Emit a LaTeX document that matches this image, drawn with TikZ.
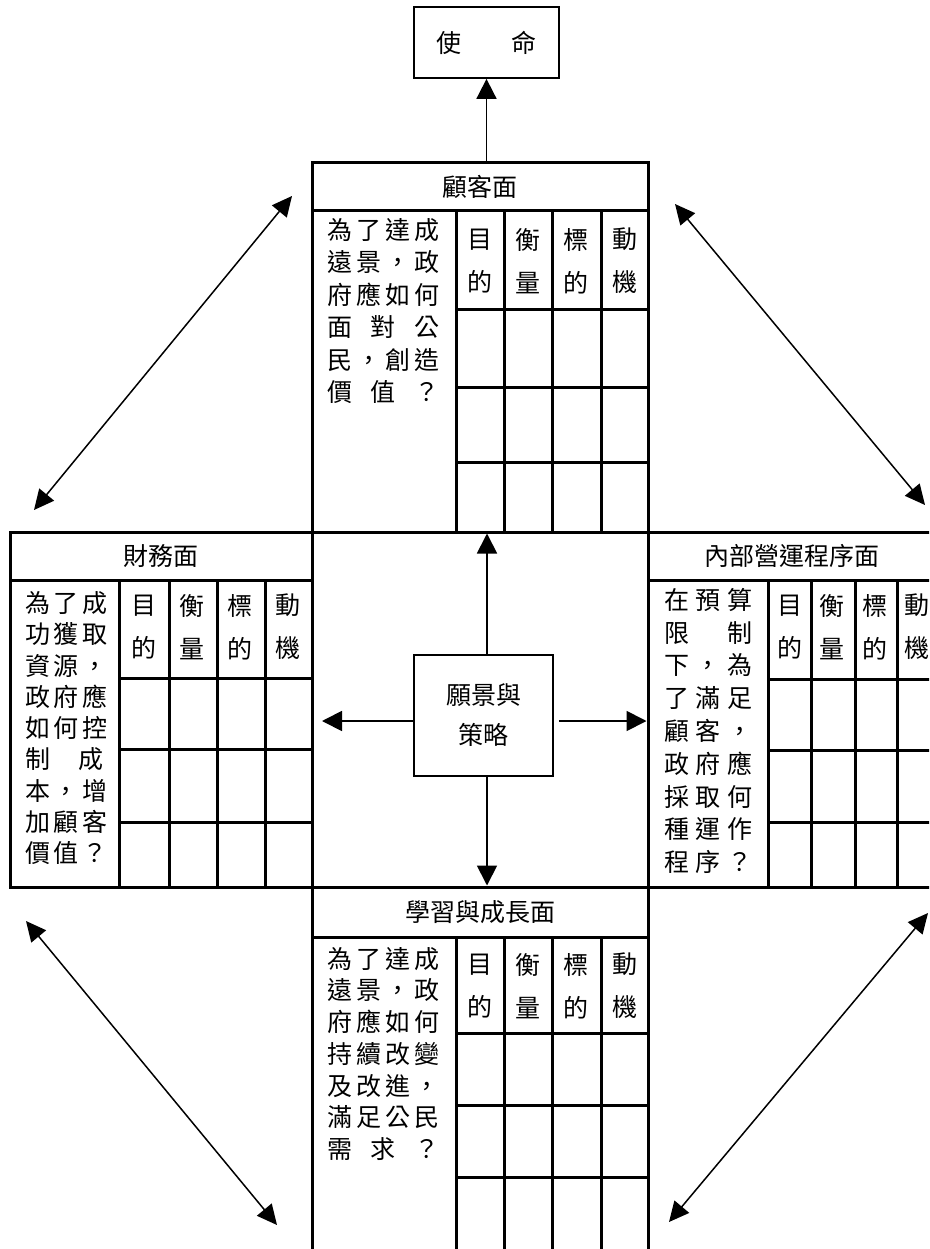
\documentclass[tikz,border=0pt]{standalone}
\usepackage{fontspec}
\newfontfamily\cjk{Noto Sans CJK TC}
\usetikzlibrary{arrows.meta}
\newcommand{\jrow}[2]{\makebox[#1][s]{#2}}

\begin{document}
\begin{tikzpicture}[x=1pt,y=-1pt,
  grid/.style={line width=3pt},
  box/.style={draw,line width=1.8pt,inner sep=0pt,align=center,font=\cjk\fontsize{25}{40}\selectfont},
  head/.style={inner sep=0pt,font=\cjk\fontsize{25}{30}\selectfont},
  ask/.style={inner sep=0pt,anchor=north west,align=left,font=\cjk\fontsize{25}{32}\selectfont},
  colhead/.style={inner sep=0pt,align=center,font=\cjk\fontsize{25}{43}\selectfont},
  link/.style={line width=1.8pt,-{Triangle[length=20pt,width=20pt]}},
  both/.style={line width=1.5pt,{Triangle[length=20pt,width=19pt]}-{Triangle[length=20pt,width=19pt]}}]
  \useasboundingbox (0,0) rectangle (929,1249);
  \clip (0,0) rectangle (929,1249);

  % 顧客面
  \draw[grid] (312,163) rectangle (648,532);
  \draw[grid] (312,211) -- (648,211);
  \foreach \x in {456,504,552,601} \draw[grid] (\x,211) -- (\x,532);
  \foreach \y in {309,387,462} \draw[grid] (456,\y) -- (648,\y);
  \node[head] (cust) at (480,187) {顧客面};
  \node[ask,font=\cjk\fontsize{25}{32.5}\selectfont] (custq) at (327,218) {\jrow{112pt}{為 了 達 成}\\\jrow{112pt}{遠 景 ， 政}\\\jrow{112pt}{府 應 如 何}\\
    \jrow{112pt}{面 對 公}\\\jrow{112pt}{民 ， 創 造}\\\jrow{112pt}{價 值 ？}};
  \foreach \lbl [count=\i] in {目\\的,衡\\量,標\\的,動\\機}
    \node[colhead] (cust-\i) at (431.8+48.2*\i,261) {\lbl};

  % 財務面
  \draw[grid] (10,532) rectangle (312,887);
  \draw[grid] (10,580) -- (312,580);
  \foreach \x in {119,169,217,265} \draw[grid] (\x,580) -- (\x,887);
  \foreach \y in {678,749,822} \draw[grid] (119,\y) -- (312,\y);
  \node[head] (fin) at (161,556) {財務面};
  \node[ask,font=\cjk\fontsize{25}{31.25}\selectfont] (finq) at (25,591.5) {\jrow{78pt}{為 了 成}\\\jrow{78pt}{功 獲 取}\\\jrow{78pt}{資 源 ，}\\
    \jrow{78pt}{政 府 應}\\\jrow{78pt}{如 何 控}\\\jrow{78pt}{制 成}\\\jrow{78pt}{本 ， 增}\\
    \jrow{78pt}{加 顧 客}\\\jrow{78pt}{價 值 ？}};
  \foreach \lbl [count=\i] in {目\\的,衡\\量,標\\的,動\\機}
    \node[colhead] (fin-\i) at (95.5+48.2*\i,627) {\lbl};

  % 內部營運程序面
  \draw[grid] (648,532) rectangle (935,887);
  \draw[grid] (648,580) -- (935,580);
  \foreach \x in {768,811,855,897} \draw[grid] (\x,580) -- (\x,887);
  \foreach \y in {679,750,822} \draw[grid] (768,\y) -- (935,\y);
  \node[head] (proc) at (791.5,556) {內部營運程序面};
  \node[ask,font=\cjk\fontsize{25}{32.8}\selectfont] (procq) at (664,588) {\jrow{88pt}{在 預 算}\\\jrow{88pt}{限 制}\\\jrow{88pt}{下 ， 為}\\
    \jrow{88pt}{了 滿 足}\\\jrow{88pt}{顧 客 ，}\\\jrow{88pt}{政 府 應}\\\jrow{88pt}{採 取 何}\\
    \jrow{88pt}{種 運 作}\\\jrow{88pt}{程 序 ？}};
  \foreach \lbl [count=\i] in {目\\的,衡\\量,標\\的,動\\機}
    \node[colhead] (proc-\i) at (747+42.5*\i,627) {\lbl};

  % 學習與成長面
  \draw[grid] (312,1262) -- (312,887) -- (648,887) -- (648,1262);
  \draw[grid] (312,937) -- (648,937);
  \foreach \x in {456,504,552,601} \draw[grid] (\x,937) -- (\x,1262);
  \foreach \y in {1033,1105,1177} \draw[grid] (456,\y) -- (648,\y);
  \node[head] (learn) at (480,912) {學習與成長面};
  \node[ask,font=\cjk\fontsize{25}{31.7}\selectfont] (learnq) at (327,947) {\jrow{112pt}{為 了 達 成}\\\jrow{112pt}{遠 景 ， 政}\\\jrow{112pt}{府 應 如 何}\\
    \jrow{112pt}{持 續 改 變}\\\jrow{112pt}{及 改 進 ，}\\\jrow{112pt}{滿 足 公 民}\\\jrow{112pt}{需 求 ？}};
  \foreach \lbl [count=\i] in {目\\的,衡\\量,標\\的,動\\機}
    \node[colhead] (learn-\i) at (431.8+48.2*\i,986) {\lbl};

  % 使命 與 願景
  \node[box,minimum width=145pt,minimum height=71pt] (mission) at (486.5,42.5) {使　　命};
  \node[box,minimum width=139pt,minimum height=121pt] (vision) at (483.5,715.5) {願景與\\策略};
  \coordinate (custtop) at (486.5,163);
  \draw[link] (custtop) -- (mission.south);

  \coordinate (vup) at (487,533.5);
  \coordinate (vdown) at (487,885.5);
  \coordinate (vleft) at (322,721);
  \coordinate (vright) at (646.5,721);
  \draw[link] (vup |- vision.north) -- (vup);
  \draw[link] (vdown |- vision.south) -- (vdown);
  \draw[link] (vleft -| vision.west) -- (vleft);
  \draw[link,shorten <=5pt] (vright -| vision.east) -- (vright);

  % 四角雙向箭頭
  \coordinate (tl1) at (292,196);
  \coordinate (tl2) at (34,510);
  \coordinate (tr1) at (675,204);
  \coordinate (tr2) at (925,505);
  \coordinate (bl1) at (26,921);
  \coordinate (bl2) at (277,1225);
  \coordinate (br1) at (928,913);
  \coordinate (br2) at (669,1222);
  \draw[both] (tl1) -- (tl2);
  \draw[both] (tr1) -- (tr2);
  \draw[both] (bl1) -- (bl2);
  \draw[both] (br1) -- (br2);
\end{tikzpicture}
\end{document}
